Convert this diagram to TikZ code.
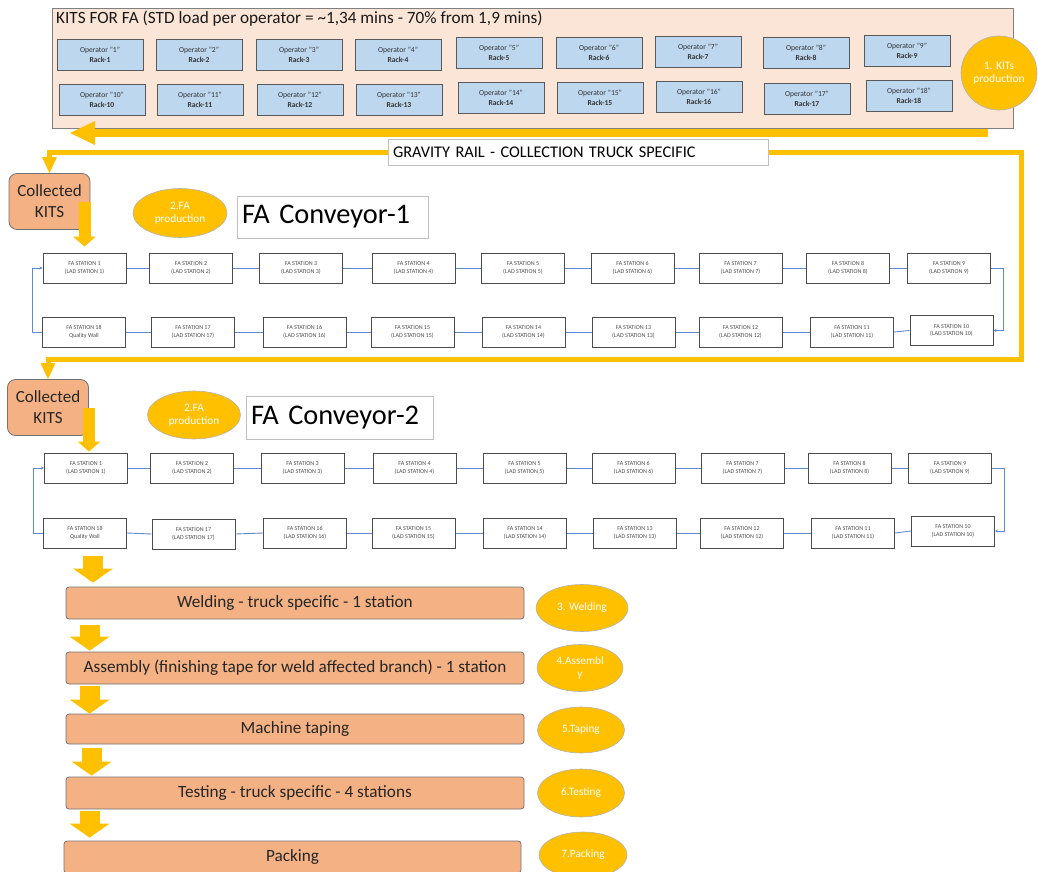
\documentclass[tikz,border=0pt]{standalone}
\usepackage{fontspec}
\setmainfont{Carlito}
\usetikzlibrary{arrows.meta,shapes.geometric}
\definecolor{kitpeach}{HTML}{FBE5D6}
\definecolor{opblue}{HTML}{BDD7EE}
\definecolor{gold}{HTML}{FFC000}
\definecolor{salmon}{HTML}{F4B183}
\definecolor{linkblue}{HTML}{5B8BD6}
\begin{document}
\begin{tikzpicture}[x=1pt,y=-1pt,
  opbox/.style={draw=black!65, fill=opblue, line width=0.8pt, minimum width=86pt,
    minimum height=31pt, inner sep=0pt, align=center, text=black!80,
    font=\fontsize{7.6}{9.6}\selectfont},
  station/.style={draw=black!70, fill=white, line width=1pt, minimum width=83pt,
    minimum height=30pt, inner sep=0pt, align=center, text=black!70,
    font=\fontsize{6}{7.6}\selectfont},
  procbox/.style={draw=black!55, fill=salmon, line width=0.8pt, rounded corners=3pt,
    minimum width=458pt, minimum height=32pt, inner sep=0pt, text=black!85,
    font=\fontsize{17.2}{19}\selectfont},
  stage/.style={ellipse, draw=black!30, line width=0.6pt, fill=gold, text=white,
    inner sep=0pt, align=center, font=\fontsize{11.3}{13}\selectfont},
  lblbox/.style={draw=black!25, fill=white, line width=0.8pt, inner ysep=0pt,
    inner xsep=5pt, align=left},
  kitbox/.style={draw=black!55, fill=salmon, line width=0.8pt, rounded corners=8pt,
    minimum width=81pt, minimum height=56pt, inner sep=0pt, align=center,
    text=black!85, font=\fontsize{17}{21}\selectfont},
  conn/.style={draw=linkblue, line width=0.9pt},
  loopconn/.style={conn, -{Stealth[length=3pt,width=3pt]}},
  rail/.style={draw=gold, line width=5pt, line join=miter},
  blockarrow/.style={draw=gold, line width=20pt,
    -{Triangle[width=40pt,length=14pt,line width=0pt]}},
  kitarrow/.style={draw=gold, line width=12pt,
    -{Triangle[width=23pt,length=10pt,line width=0pt]}}
]
\useasboundingbox (0,0) rectangle (1038,872);

% ---------- kit preparation area ----------
\node[draw=black!50, fill=kitpeach, line width=0.8pt, minimum width=961pt,
  minimum height=120pt, inner sep=0pt] (kits) at (532.5,68) {};
\node[anchor=west, inner sep=0pt, font=\fontsize{17.2}{19}\selectfont, text=black!90]
  (kitstitle) at (56,19) {KITS FOR FA (STD load per operator = \textasciitilde1,34 mins - 70\% from 1,9 mins)};
\foreach \n/\x/\y in {1/100/55, 2/199/55, 3/299/55, 4/398/55, 5/499/53,
  6/599/53, 7/698/52, 8/806/53, 9/907/51,
  10/102/100, 11/200/100, 12/300/100, 13/399/100, 14/501/98,
  15/600/98, 16/699/97, 17/807/99, 18/909/96}
  \node[opbox] (op\n) at (\x,\y) {Operator "\n"\\\textbf{Rack-\n}};
\node[stage, minimum width=76pt, minimum height=74pt, font=\fontsize{11.5}{13.5}\selectfont]
  (stage1) at (999,73) {1. KITs\\production};

% ---------- collected kits ----------
\node[kitbox] (ck1) at (49.5,201.5) {Collected\\KITS};
\node[kitbox] (ck2) at (48,407.5) {Collected\\KITS};

% ---------- rails ----------
\coordinate (r1s) at (988,133);
\coordinate (r1e) at (70,133);
\draw[draw=gold, line width=8pt, -{Triangle[width=24pt,length=25pt,line width=0pt]}] (r1s) -- (r1e);
\coordinate (rNE) at (1021,152);
\coordinate (rSE) at (1021,359);
\draw[rail, {Triangle[width=15pt,length=16pt,line width=0pt]}-{Triangle[width=15pt,length=16pt,line width=0pt]}]
  (ck1.north) |- (rNE) -- (rSE) -| (ck2.north);
\node[lblbox, minimum height=26pt, text width=370pt, font=\fontsize{16.3}{18}\selectfont]
  (grav) at (578,152) {GRAVITY RAIL - COLLECTION TRUCK SPECIFIC};

% ---------- conveyor 1 ----------
\node[stage, minimum width=94pt, minimum height=49pt] (stage2a) at (180,213) {2.FA\\production};
\node[lblbox, minimum height=42pt, text width=181pt, font=\fontsize{28.4}{32}\selectfont]
  (conv1) at (332.5,217) {FA Conveyor-1};
\foreach \n/\x/\y in {1/84.5/268, 2/191/268, 3/301/268, 4/413.5/268, 5/523/268,
  6/632.5/268, 7/740.5/268, 8/848/268, 9/949/268,
  10/951.5/330.5, 11/852/332, 12/740.5/332, 13/633.5/332, 14/523.5/332,
  15/412.5/332, 16/304.5/332, 17/193/332}
  \node[station] (a\n) at (\x,\y) {FA STATION \n\\(LAD STATION \n)};
\node[station] (a18) at (84,332) {FA STATION 18\\Quality Wall};
\foreach \i/\j in {1/2,2/3,3/4,4/5,5/6,6/7,7/8,8/9}
  \draw[conn] (a\i.east) -- (a\j.west);
\foreach \i/\j in {10/11,11/12,12/13,13/14,14/15,15/16,16/17,17/18}
  \draw[conn] (a\i.west) -- (a\j.east);
\draw[loopconn] (a9.east) -- ++(12,0) |- (a10.east);
\draw[loopconn] (a18.west) -- ++(-10,0) |- (a1.west);
\draw[kitarrow, shorten >=6pt] (ck1.center -| a1.north) -- (a1.north);

% ---------- conveyor 2 ----------
\node[stage, minimum width=93pt, minimum height=48pt] (stage2b) at (194,415) {2.FA\\production};
\node[lblbox, minimum height=43pt, text width=177pt, font=\fontsize{28.4}{32}\selectfont]
  (conv2) at (339.5,417.5) {FA Conveyor-2};
\foreach \n/\x/\y in {1/86/468, 2/192/468, 3/302.5/468, 4/414.5/468, 5/524.5/468,
  6/633.5/468, 7/742.5/468, 8/849.5/468, 9/950/468,
  10/953/531, 11/853/533, 12/742/533, 13/635/533, 14/525/533,
  15/413.5/533, 16/305/533, 17/193.5/534}
  \node[station] (b\n) at (\x,\y) {FA STATION \n\\(LAD STATION \n)};
\node[station] (b18) at (85,533) {FA STATION 18\\Quality Wall};
\foreach \i/\j in {1/2,2/3,3/4,4/5,5/6,6/7,7/8,8/9}
  \draw[conn] (b\i.east) -- (b\j.west);
\foreach \i/\j in {10/11,11/12,12/13,13/14,14/15,15/16,16/17,17/18}
  \draw[conn] (b\i.west) -- (b\j.east);
\draw[loopconn] (b9.east) -- ++(12,0) |- (b10.east);
\draw[loopconn] (b18.west) -- ++(-10,0) |- (b1.west);
\draw[kitarrow, shorten >=1pt] ([xshift=3pt]ck2.center -| b1.north) -- ([xshift=3pt]b1.north);

% ---------- downstream process ----------
\node[procbox] (weld) at (295,603) {Welding - truck specific - 1 station};
\node[procbox] (assy) at (295,668) {Assembly (finishing tape for weld affected branch) - 1 station};
\node[procbox, minimum height=30pt] (tape) at (295,729) {Machine taping};
\node[procbox] (test) at (295,793) {Testing - truck specific - 4 stations};
\node[procbox, minimum width=457pt] (pack) at (292.5,857) {Packing};

\node[stage, minimum width=92pt, minimum height=47pt] (stage3) at (582,608) {3. Welding};
\node[stage, minimum width=86pt, minimum height=47pt] (stage4) at (580,668) {4.Assembl\\y};
\node[stage, minimum width=87pt, minimum height=46pt] (stage5) at (581,730) {5.Taping};
\node[stage, minimum width=87pt, minimum height=48pt] (stage6) at (581,793) {6.Testing};
\node[stage, minimum width=88pt, minimum height=46pt] (stage7) at (583,855) {7.Packing};

\draw[blockarrow, shorten <=7pt, shorten >=4pt]
  ([xshift=8pt]b18.south) -- ([xshift=8pt]b18.south |- weld.north);
\draw[blockarrow, shorten <=6pt, shorten >=1pt]
  ([xshift=24pt]weld.south west) -- ([xshift=24pt]weld.south west |- assy.north);
\draw[blockarrow, shorten <=2pt, shorten >=0pt]
  ([xshift=24pt]assy.south west) -- ([xshift=24pt]assy.south west |- tape.north);
\draw[blockarrow, shorten <=4pt, shorten >=1pt]
  ([xshift=26pt]tape.south west) -- ([xshift=26pt]tape.south west |- test.north);
\draw[blockarrow, shorten <=2pt, shorten >=3pt]
  ([xshift=24pt]test.south west) -- ([xshift=24pt]test.south west |- pack.north);
\end{tikzpicture}
\end{document}
